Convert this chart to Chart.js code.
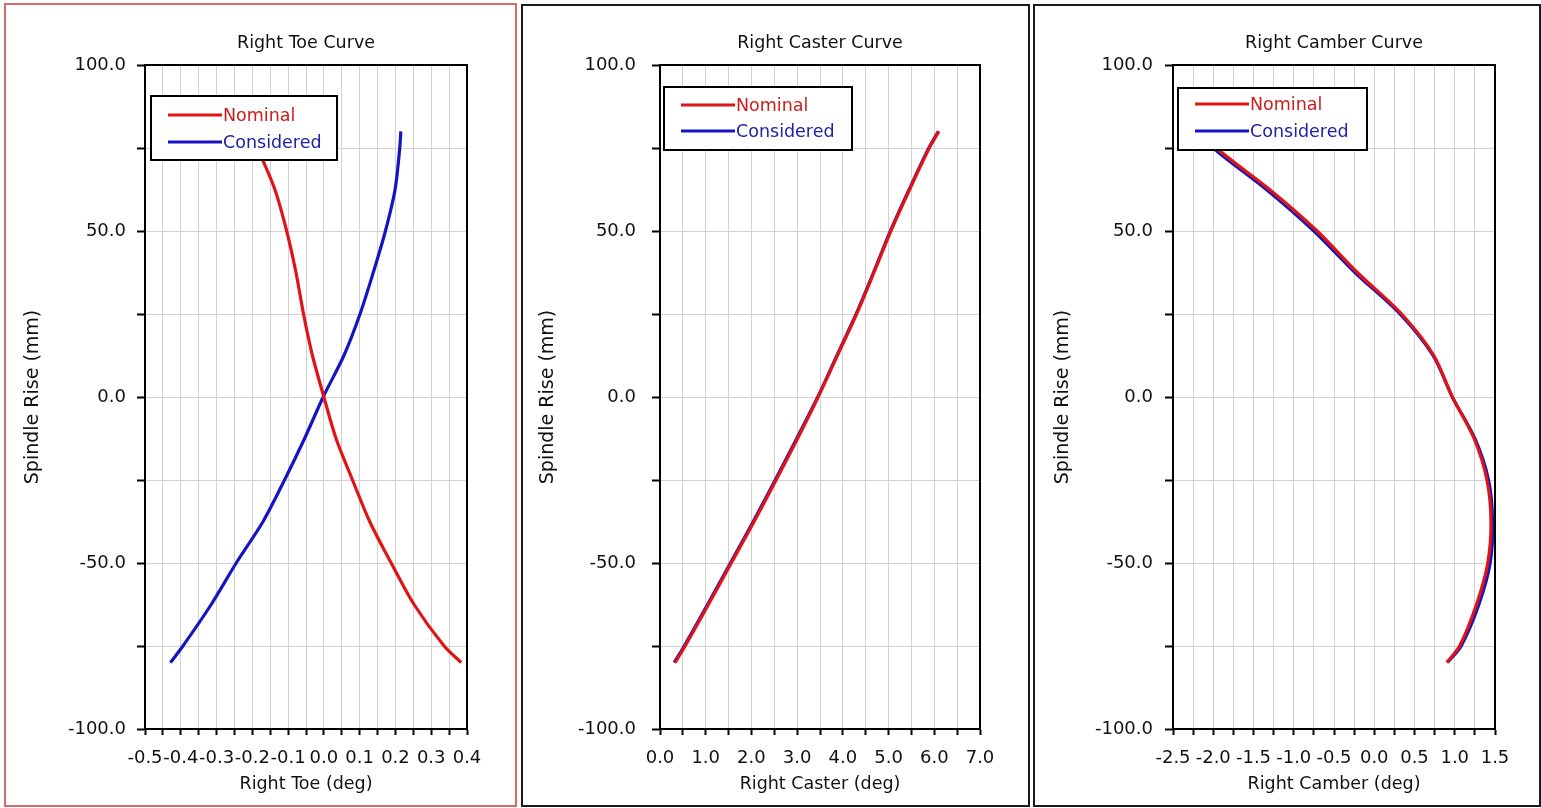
<!DOCTYPE html>
<html>
<head>
<meta charset="utf-8">
<script src="https://cdn.jsdelivr.net/npm/chart.js@4.4.1/dist/chart.umd.min.js"></script>
<style>
  html, body { margin: 0; padding: 0; background: #ffffff; }
  body { width: 1541px; height: 808px; position: relative; overflow: hidden; }
  canvas { position: absolute; }
  .frame { position: absolute; box-sizing: border-box; pointer-events: none; }
</style>
</head>
<body>
<canvas id="c1" width="510" height="800" style="left:6px;top:5px"></canvas>
<canvas id="c2" width="503" height="800" style="left:524px;top:5px"></canvas>
<canvas id="c3" width="503" height="800" style="left:1036px;top:5px"></canvas>
<div class="frame" style="left:4px;top:3px;width:513px;height:804px;border:2px solid #d76a6a;"></div>
<div class="frame" style="left:521px;top:4px;width:509px;height:803px;border:2px solid #1a1a1a;"></div>
<div class="frame" style="left:1033px;top:4px;width:508px;height:803px;border:2px solid #1a1a1a;"></div>
<script>
// ---- data ----
const spindleRise = [-80, -75, -62.5, -50, -37.5, -25, -12.5, 0, 12.5, 25, 37.5, 50, 62.5, 75, 80];

const toeNominal     = [0.384, 0.336, 0.252, 0.188, 0.128, 0.080, 0.034, 0.000, -0.032, -0.057, -0.078, -0.104, -0.137, -0.186, -0.208];
const toeConsidered  = [-0.429, -0.394, -0.315, -0.245, -0.170, -0.110, -0.054, -0.002, 0.056, 0.101, 0.138, 0.172, 0.199, 0.212, 0.215];

const casterNominal    = [0.33, 0.55, 1.06, 1.56, 2.06, 2.54, 3.01, 3.46, 3.88, 4.30, 4.68, 5.05, 5.46, 5.89, 6.10];
const casterConsidered = [0.31, 0.53, 1.04, 1.54, 2.04, 2.52, 2.99, 3.45, 3.87, 4.29, 4.67, 5.04, 5.45, 5.88, 6.09];

const camberNominal    = [0.90, 1.06, 1.27, 1.41, 1.45, 1.40, 1.24, 0.97, 0.74, 0.34, -0.21, -0.71, -1.30, -1.96, -2.12];
const camberConsidered = [0.91, 1.08, 1.30, 1.44, 1.47, 1.42, 1.25, 0.97, 0.73, 0.32, -0.24, -0.75, -1.34, -2.00, -2.16];

const seriesLabels = ['Nominal', 'Considered'];

const riseTickLabels   = ['-100.0', '-50.0', '0.0', '50.0', '100.0'];
const toeTickLabels    = ['-0.5', '-0.4', '-0.3', '-0.2', '-0.1', '0.0', '0.1', '0.2', '0.3', '0.4'];
const casterTickLabels = ['0.0', '1.0', '2.0', '3.0', '4.0', '5.0', '6.0', '7.0'];
const camberTickLabels = ['-2.5', '-2.0', '-1.5', '-1.0', '-0.5', '0.0', '0.5', '1.0', '1.5'];

// ---- styling / layout ----
const FONT = "'DejaVu Sans', 'Verdana', sans-serif";
const RED = '#e01414';
const BLUE = '#1414c4';
const RED_TEXT = '#cc1c1c';
const BLUE_TEXT = '#2020a8';

const framePlugin = {
  id: 'plotFrame',
  afterDatasetsDraw(chart) {
    const { ctx, chartArea: a } = chart;
    ctx.save();
    ctx.strokeStyle = '#000';
    ctx.lineWidth = 2;
    ctx.strokeRect(a.left, a.top, a.right - a.left, a.bottom - a.top);
    ctx.restore();
  }
};

const boxLegendPlugin = {
  id: 'boxLegend',
  afterDraw(chart, args, opts) {
    const { ctx, chartArea: a } = chart;
    const x = a.left + opts.dx, y = a.top + opts.dy;
    ctx.save();
    ctx.fillStyle = '#fff';
    ctx.fillRect(x, y, opts.w, opts.h);
    ctx.strokeStyle = '#000';
    ctx.lineWidth = 2;
    ctx.strokeRect(x, y, opts.w, opts.h);
    const textColors = [RED_TEXT, BLUE_TEXT];
    chart.data.datasets.forEach((ds, i) => {
      const ly = y + opts.firstY + i * opts.rowGap;
      ctx.strokeStyle = ds.borderColor;
      ctx.lineWidth = 3;
      ctx.beginPath();
      ctx.moveTo(x + 17, ly);
      ctx.lineTo(x + 71, ly);
      ctx.stroke();
      ctx.fillStyle = textColors[i];
      ctx.font = "17.5px " + FONT;
      ctx.textBaseline = 'middle';
      ctx.textAlign = 'left';
      ctx.fillText(ds.label, x + 72, ly + 1);
    });
    ctx.restore();
  }
};

function points(xs) {
  return xs.map((v, i) => ({ x: v, y: spindleRise[i] }));
}

function makeChart(id, cfg) {
  const ctx = document.getElementById(id);
  return new Chart(ctx, {
    type: 'scatter',
    data: {
      datasets: [
        { label: seriesLabels[0], data: points(cfg.nominal), borderColor: RED, backgroundColor: RED },
        { label: seriesLabels[1], data: points(cfg.considered), borderColor: BLUE, backgroundColor: BLUE }
      ]
    },
    options: {
      responsive: false,
      animation: false,
      showLine: true,
      elements: {
        point: { radius: 0, hoverRadius: 0 },
        line: { borderWidth: 3.2, tension: 0.3, fill: false }
      },
      layout: { padding: { left: 0, top: 0, bottom: 0, right: cfg.padRight } },
      plugins: {
        legend: { display: false },
        tooltip: { enabled: false },
        title: {
          display: true,
          text: cfg.title,
          fullSize: false,
          color: '#111',
          font: { family: FONT, size: 17.5, weight: 'normal' },
          padding: { top: 28, bottom: 11 }
        },
        boxLegend: cfg.legend
      },
      scales: {
        x: {
          type: 'linear',
          position: 'bottom',
          min: cfg.xMin, max: cfg.xMax,
          afterFit: s => { s.height = 76; },
          ticks: {
            stepSize: cfg.xStep,
            autoSkip: false,
            maxRotation: 0,
            minRotation: 0,
            padding: 13,
            color: '#111',
            font: { family: FONT, size: 18 },
            callback: (v, i) => (i % 2 === 0 ? cfg.xLabels[i / 2] : '')
          },
          grid: { color: '#d2d2d2', lineWidth: 1, tickColor: '#000', tickLength: 6, tickWidth: 2 },
          border: { display: true, color: '#000', width: 2 },
          title: {
            display: true,
            text: cfg.xTitle,
            color: '#111',
            font: { family: FONT, size: 17.5 },
            padding: { top: 0, bottom: 10.5 }
          }
        },
        y: {
          type: 'linear',
          position: 'left',
          min: -100, max: 100,
          afterFit: s => { s.width = cfg.yWidth; },
          ticks: {
            stepSize: 25,
            autoSkip: false,
            padding: cfg.yTickPad,
            color: '#111',
            font: { family: FONT, size: 18 },
            callback: (v, i) => (i % 2 === 0 ? riseTickLabels[i / 2] : '')
          },
          grid: { color: '#d2d2d2', lineWidth: 1, tickColor: '#000', tickLength: 8, tickWidth: 2 },
          border: { display: true, color: '#000', width: 2 },
          title: {
            display: true,
            text: 'Spindle Rise (mm)',
            color: '#111',
            font: { family: FONT, size: 19 },
            padding: { top: cfg.yTitlePad, bottom: 0 }
          }
        }
      }
    },
    plugins: [framePlugin, boxLegendPlugin]
  });
}

makeChart('c1', {
  title: 'Right Toe Curve', xTitle: 'Right Toe (deg)',
  nominal: toeNominal, considered: toeConsidered,
  xMin: -0.5, xMax: 0.4, xStep: 0.05, xLabels: toeTickLabels,
  yWidth: 139, padRight: 49, yTickPad: 11, yTitlePad: 15.6,
  legend: { dx: 6, dy: 31, w: 186, h: 64, firstY: 19, rowGap: 27 }
});
makeChart('c2', {
  title: 'Right Caster Curve', xTitle: 'Right Caster (deg)',
  nominal: casterNominal, considered: casterConsidered,
  xMin: 0, xMax: 7, xStep: 0.5, xLabels: casterTickLabels,
  yWidth: 136, padRight: 47, yTickPad: 16, yTitlePad: 12.6,
  legend: { dx: 4, dy: 22, w: 188, h: 63, firstY: 18, rowGap: 26 }
});
makeChart('c3', {
  title: 'Right Camber Curve', xTitle: 'Right Camber (deg)',
  nominal: camberNominal, considered: camberConsidered,
  xMin: -2.5, xMax: 1.5, xStep: 0.25, xLabels: camberTickLabels,
  yWidth: 137, padRight: 44, yTickPad: 12, yTitlePad: 15.6,
  legend: { dx: 5, dy: 23, w: 189, h: 62, firstY: 16, rowGap: 27 }
});
</script>
</body>
</html>
